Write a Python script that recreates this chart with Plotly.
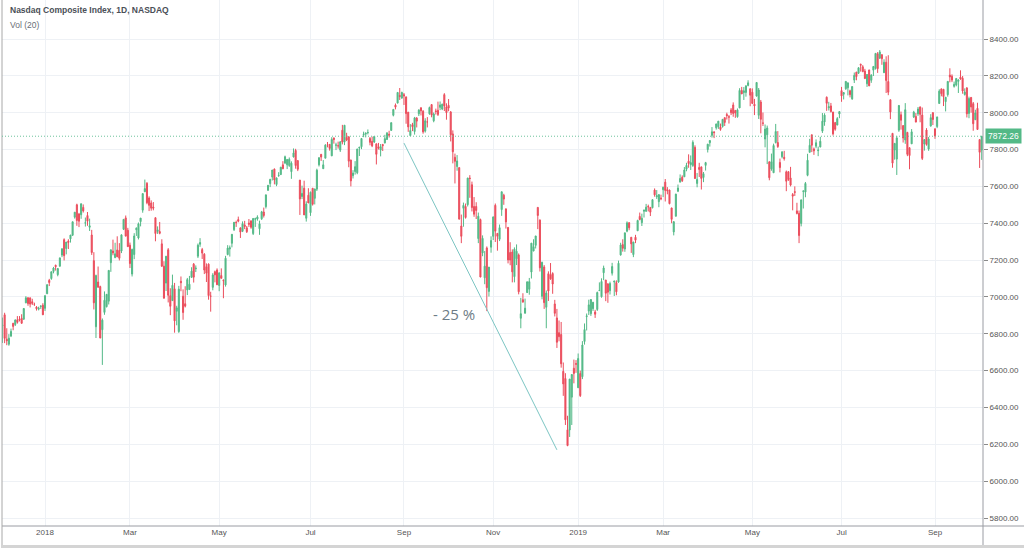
import plotly.graph_objects as go
import pandas as pd

title_text = "Nasdaq Composite Index, 1D, NASDAQ"
study_text = "Vol (20)"
last_price = 7872.26
drawdown_label = "- 25 %"
price_ticks = [5800, 6000, 6200, 6400, 6600, 6800, 7000, 7200, 7400, 7600, 7800, 8000, 8200, 8400]

# Daily OHLC, Dec 2017 .. Oct 3 2019 (one row per month)
open_ = [
    6844,6903,6770,6743,6788,6857,6850,6876,6880,6884,6879,6968,6995,6995,6974,6960,6945,6933,6948,6955,
    6938,7017,7090,7100,7138,7172,7121,7167,7227,7311,7263,7303,7315,7335,7433,7500,7450,7446,7486,7401,7442,
    7378,7336,7197,6838,7081,7056,6822,6916,6947,6977,7186,7249,7214,7255,7252,7249,7367,7429,7362,
    7281,7124,7230,7365,7320,7409,7471,7571,7617,7537,7510,7488,7430,7355,7355,7288,7167,7075,7256,7007,6980,
    7044,6922,6812,7085,7004,6963,7038,7040,7106,7178,7153,7221,7286,7257,7232,7164,7178,7004,7052,7137,7146,
    7062,7116,7090,7065,7230,7260,7291,7365,7404,7420,7375,7356,7391,7375,7401,7413,7344,7422,7423,7370,7424,7461,
    7490,7579,7615,7651,7694,7610,7658,7664,7717,7727,7717,7713,7680,7760,7795,7740,7634,7545,7590,7427,7552,
    7457,7590,7535,7585,7717,7774,7696,7753,7827,7828,7766,7862,7823,7821,7797,7905,7840,7866,7869,7743,7658,
    7681,7674,7808,7815,7881,7884,7892,7860,7845,7841,7831,7815,7797,7827,7836,7855,7883,7904,7986,8041,8052,8094,8080,
    8098,8086,8003,7876,7935,7898,7971,7994,8027,8008,7900,7950,7994,8044,7956,8009,8013,8029,8020,
    8098,8032,8040,8004,7885,7758,7708,7702,7385,7481,7491,7501,7645,7609,7491,7491,7317,7420,7239,7104,7266,7030,7270,
    7329,7497,7345,7313,7474,7552,7478,7377,7241,7244,7110,7207,7228,6884,6985,6912,7024,7042,7135,7249,7280,
    7486,7417,7003,7163,6944,7126,7121,7127,6962,6886,6806,6796,6596,6557,6279,6278,6456,6613,6638,
    6507,6584,6567,6758,6893,6923,6909,6936,6918,6932,7034,7001,7131,7092,7071,7034,7129,7081,7078,7081,7228,
    7284,7260,7357,7403,7324,7230,7324,7359,7437,7403,7465,7465,7491,7486,7484,7580,7544,7517,7537,
    7582,7623,7582,7580,7483,7353,7438,7574,7623,7650,7652,7693,7737,7718,7713,7812,7616,7703,7706,7648,7714,
    7800,7837,7877,7895,7918,7924,7922,7925,7973,7990,7978,8015,8042,8012,7978,8026,8121,8109,8110,8148,8130,
    8111,8046,8090,7986,8058,7944,7857,7880,7733,7695,7674,7838,7838,7730,7761,7758,7679,7680,7646,7556,7571,7467,
    7454,7399,7573,7569,7660,7785,7880,7803,7818,7794,7814,7900,7950,8084,8027,8037,8004,7946,7933,7993,
    8120,8100,8130,8135,8119,8075,8177,8220,8214,8263,8249,8226,8157,8232,8176,8231,8240,8320,8296,8315,8217,8274,
    8169,8070,7888,7797,7748,7905,7989,7930,7852,7893,7810,7831,7977,7980,7994,8031,7987,7830,7906,7803,7928,8000,
    7913,7925,8050,8129,8127,8060,8098,8204,8198,8143,8151,8170,8193,8187,8099,8134,7996,8083,8049,7962,
    8024,7854,7797,
]
high = [
    6888,6914,6830,6798,6828,6859,6878,6896,6896,6906,6940,7004,6999,6996,6990,6969,6950,6947,6955,6966,
    7007,7069,7098,7137,7163,7175,7157,7212,7264,7318,7298,7313,7336,7408,7461,7506,7456,7506,7502,7431,7461,
    7425,7364,7243,7121,7165,7061,6883,7030,7016,7146,7256,7311,7294,7329,7292,7338,7422,7442,7375,
    7295,7262,7346,7378,7404,7428,7561,7637,7623,7546,7524,7515,7431,7383,7407,7313,7194,7222,7265,7047,7121,
    7076,6952,7060,7111,7041,7058,7103,7114,7161,7184,7171,7290,7319,7266,7238,7182,7182,7028,7129,7143,7155,
    7131,7155,7096,7223,7281,7279,7340,7406,7414,7436,7376,7410,7413,7385,7423,7414,7427,7430,7443,7414,7467,7485,
    7555,7607,7641,7689,7697,7648,7677,7706,7737,7767,7749,7757,7736,7806,7804,7741,7635,7604,7631,7519,7590,
    7572,7590,7587,7696,7757,7776,7743,7829,7841,7830,7867,7866,7837,7843,7845,7934,7933,7891,7872,7745,7688,
    7737,7804,7815,7860,7897,7894,7909,7868,7870,7873,7832,7836,7830,7831,7880,7895,7902,7946,8018,8050,8110,8134,8114,
    8107,8086,8003,7938,7945,7977,7976,8019,8028,8014,7970,7976,8033,8045,8001,8022,8060,8061,8049,
    8106,8051,8074,8009,7904,7778,7770,7702,7447,7512,7507,7647,7661,7626,7542,7514,7458,7425,7334,7249,7274,7162,7329,
    7437,7507,7346,7393,7571,7560,7479,7380,7297,7258,7269,7285,7236,6995,7020,6991,7083,7103,7292,7313,7331,
    7487,7421,7191,7173,7035,7139,7184,7134,6984,6935,6872,6864,6644,6586,6355,6555,6580,6660,6657,
    6693,6600,6760,6856,6910,6985,6987,6973,6930,7029,7079,7101,7170,7092,7073,7083,7185,7087,7090,7197,7294,
    7313,7348,7410,7405,7325,7299,7337,7419,7458,7452,7472,7505,7501,7488,7528,7589,7580,7558,7555,
    7599,7640,7596,7582,7484,7412,7560,7610,7665,7660,7705,7728,7774,7768,7850,7823,7673,7728,7706,7678,7733,
    7831,7850,7922,7900,7940,7955,7941,7965,7974,8000,7987,8025,8056,8015,8023,8133,8140,8139,8147,8176,8131,
    8132,8075,8166,8134,8069,8001,7936,7930,7737,7778,7832,7939,7900,7751,7792,7793,7686,7682,7706,7564,7600,7511,
    7469,7527,7577,7624,7777,7858,7881,7811,7855,7816,7869,7998,7997,8088,8059,8053,8004,7950,7976,8009,
    8140,8111,8171,8163,8125,8142,8218,8222,8246,8266,8258,8238,8210,8233,8209,8252,8323,8329,8340,8316,8290,8306,
    8312,8072,7888,7836,7874,8042,8006,7931,8052,7896,7811,7911,8010,7998,8031,8034,8028,7855,7916,7868,7992,8003,
    7913,7978,8127,8132,8129,8085,8171,8241,8208,8169,8187,8182,8230,8199,8132,8139,8087,8085,8058,8016,
    8054,7855,7874,
]
low = [
    6750,6749,6738,6735,6782,6819,6842,6855,6867,6854,6876,6966,6952,6943,6956,6951,6926,6927,6935,6902,
    6924,7017,7059,7093,7128,7143,7112,7164,7216,7198,7231,7260,7295,7331,7425,7386,7379,7424,7458,7382,7386,
    7358,7228,6932,6777,7052,6776,6631,6903,6943,6959,7136,7226,7210,7216,7198,7238,7363,7330,7273,
    7157,7111,7205,7331,7312,7383,7457,7569,7503,7466,7468,7470,7302,7342,7340,7163,6992,7032,6970,6901,6978,
    6806,6846,6805,7031,6876,6943,7010,7040,7105,7078,7135,7211,7272,7206,7124,7081,6985,6920,7036,7079,7066,
    7031,7100,6993,7056,7226,7219,7269,7358,7380,7405,7320,7352,7368,7347,7380,7370,7336,7380,7414,7337,7418,7431,
    7480,7575,7596,7632,7611,7601,7652,7662,7693,7721,7694,7706,7641,7757,7696,7683,7445,7531,7445,7409,7510,
    7440,7496,7502,7575,7708,7738,7695,7753,7812,7794,7764,7832,7797,7805,7787,7828,7824,7846,7704,7600,7643,
    7664,7666,7765,7802,7867,7866,7882,7823,7813,7836,7719,7800,7763,7792,7833,7852,7865,7902,7980,8018,8051,8069,8075,
    8042,7940,7896,7874,7900,7881,7920,7982,7985,7886,7892,7920,7989,7975,7948,7990,7982,8014,8014,
    8009,7962,8008,7844,7725,7616,7685,7422,7292,7381,7425,7491,7538,7464,7435,7423,7292,7107,7221,7069,6923,7002,7240,
    7309,7298,7251,7303,7440,7500,7371,7182,7172,7079,7079,7173,7014,6830,6969,6909,7021,7012,7100,7249,7263,
    7368,7138,6987,6935,6830,6978,7093,7017,6894,6723,6759,6616,6463,6305,6190,6240,6305,6531,6588,
    6506,6457,6554,6741,6818,6902,6897,6924,6886,6924,7034,6996,7091,6977,6968,7013,7116,7005,7009,7077,7224,
    7246,7245,7351,7362,7239,7216,7292,7359,7416,7385,7431,7462,7464,7439,7481,7544,7532,7487,7525,
    7542,7518,7557,7503,7400,7334,7437,7569,7623,7624,7651,7682,7701,7689,7706,7641,7595,7651,7583,7623,7686,
    7784,7816,7865,7862,7908,7912,7902,7919,7928,7963,7941,7987,7978,7972,7973,8025,8101,8069,8087,8143,8035,
    8049,7987,8088,7966,7888,7928,7812,7721,7633,7685,7674,7833,7809,7676,7752,7740,7574,7630,7600,7470,7548,7448,
    7292,7383,7480,7541,7655,7784,7786,7771,7807,7764,7812,7890,7929,8010,8012,8001,7876,7902,7932,7970,
    8059,8072,8124,8094,8083,8070,8161,8176,8210,8223,8220,8185,8140,8144,8162,8199,8234,8216,8292,8260,8216,8107,
    8095,7965,7701,7745,7662,7896,7908,7838,7831,7764,7693,7831,7971,7948,7983,7948,7743,7794,7821,7793,7924,7933,
    7858,7916,8049,8089,8036,8007,8087,8165,8166,8136,8143,8107,8179,8103,8093,7974,7970,8000,7902,7960,
    7906,7700,7744,
]
close = [
    6848,6775,6762,6776,6813,6840,6875,6862,6876,6857,6937,6995,6964,6961,6965,6960,6936,6939,6950,6903,
    7007,7066,7078,7137,7157,7164,7154,7212,7261,7224,7298,7296,7336,7408,7460,7415,7411,7506,7467,7402,7411,
    7386,7241,6968,7116,7052,6777,6874,6982,7014,7144,7256,7239,7234,7218,7210,7337,7421,7330,7273,
    7181,7258,7331,7372,7397,7428,7561,7588,7511,7497,7482,7482,7344,7364,7345,7167,6993,7221,7009,6949,7063,
    6870,6941,7042,7077,6915,6950,7094,7069,7140,7107,7156,7281,7295,7238,7146,7129,7007,7004,7119,7120,7066,
    7131,7101,7088,7210,7265,7267,7340,7405,7403,7411,7352,7398,7382,7354,7394,7378,7426,7424,7434,7397,7462,7442,
    7554,7606,7638,7689,7635,7646,7660,7704,7696,7761,7746,7747,7726,7782,7713,7693,7532,7562,7445,7504,7510,
    7568,7503,7586,7688,7756,7759,7717,7824,7826,7806,7855,7854,7825,7820,7842,7841,7932,7852,7737,7630,7672,
    7707,7803,7812,7860,7884,7888,7892,7839,7820,7871,7774,7807,7816,7821,7859,7889,7878,7946,8018,8030,8110,8088,8110,
    8091,7995,7923,7903,7924,7972,7954,8014,8010,7896,7956,7950,8028,7987,7993,8007,7990,8042,8046,
    8037,8000,8025,7880,7788,7736,7738,7422,7329,7497,7431,7645,7643,7485,7449,7469,7438,7108,7318,7167,7050,7162,7306,
    7434,7357,7329,7376,7571,7531,7407,7201,7200,7136,7259,7248,7028,6909,6972,6939,7082,7083,7292,7273,7331,
    7442,7158,7188,6969,7021,7032,7098,7070,6911,6754,6784,6637,6528,6333,6193,6554,6579,6585,6635,
    6666,6464,6739,6823,6897,6957,6986,6971,6906,7024,7035,7084,7157,7020,7026,7073,7165,7086,7028,7183,7282,
    7264,7348,7402,7375,7288,7298,7308,7415,7420,7427,7472,7487,7489,7460,7528,7554,7549,7555,7533,
    7595,7578,7576,7506,7421,7408,7558,7591,7643,7631,7689,7714,7724,7729,7839,7643,7638,7692,7643,7669,7729,
    7829,7849,7896,7892,7939,7954,7909,7964,7947,7984,7976,8000,7996,7998,8015,8121,8102,8119,8146,8162,8095,
    8050,8037,8164,8123,7964,7943,7911,7917,7647,7734,7822,7898,7816,7702,7786,7751,7628,7637,7607,7547,7568,7453,
    7333,7527,7575,7616,7742,7823,7823,7793,7837,7797,7845,7954,7987,8051,8032,8006,7885,7910,7968,8006,
    8091,8109,8170,8162,8098,8142,8203,8196,8244,8258,8223,8185,8207,8146,8204,8251,8322,8239,8330,8293,8274,8175,
    8111,8004,7726,7833,7863,8039,7959,7863,8016,7774,7767,7896,8003,7949,8020,7991,7752,7854,7827,7857,7973,7963,
    7874,7977,8117,8103,8087,8084,8170,8194,8177,8154,8186,8177,8183,8118,8112,7994,8077,8031,7940,7999,
    7909,7785,7872,
]

market_holidays = [
    "2017-12-25", "2018-01-01", "2018-01-15", "2018-02-19", "2018-03-30", "2018-05-28",
    "2018-07-04", "2018-09-03", "2018-11-22", "2018-12-05", "2018-12-25", "2019-01-01",
    "2019-01-21", "2019-02-18", "2019-04-19", "2019-05-27", "2019-07-04", "2019-09-02",
]
tick_months = ["2018-01", "2018-03", "2018-05", "2018-07", "2018-09", "2018-11",
               "2019-01", "2019-03", "2019-05", "2019-07", "2019-09"]
tick_labels = ["2018", "Mar", "May", "Jul", "Sep", "Nov", "2019", "Mar", "May", "Jul", "Sep"]

# drawdown trend line (date, price) endpoints
trend_start = ("2018-09-04", 7835)
trend_end = ("2018-12-17", 6170)

dates = [d for d in pd.bdate_range("2017-12-01", "2019-10-03")
         if d.strftime("%Y-%m-%d") not in market_holidays]
n = len(dates)
assert n == len(open_) == len(high) == len(low) == len(close), (n, len(open_), len(high), len(low), len(close))
idx = list(range(n))
date_str = [d.strftime("%Y-%m-%d") for d in dates]
pos = {s: i for i, s in enumerate(date_str)}
first_of_month = {}
for i, d in enumerate(dates):
    first_of_month.setdefault(d.strftime("%Y-%m"), i)
tickvals = [first_of_month[m] for m in tick_months]

UP = "#53b987"
DOWN = "#eb4d5c"
GRID = "#eef1f5"
AXIS = "#9a9ca3"

fig = go.Figure()
fig.add_trace(go.Candlestick(
    x=idx, open=open_, high=high, low=low, close=close, text=date_str,
    increasing=dict(line=dict(color=UP, width=1), fillcolor=UP),
    decreasing=dict(line=dict(color=DOWN, width=1), fillcolor=DOWN),
    whiskerwidth=0, hoverinfo="text+y",
))

# pixel mapping: Jan 2 2018 at px 45, spacing ~2.124 px per bar; plot spans px 2..983
j0 = first_of_month["2018-01"]
spacing = 890 / (first_of_month["2019-09"] - j0)
x_lo = j0 - 43 / spacing
x_hi = j0 + 938 / spacing

fig.update_layout(
    width=1024, height=548,
    margin=dict(l=2, r=41, t=0, b=22),
    paper_bgcolor="white", plot_bgcolor="white",
    showlegend=False,
    font=dict(family="Liberation Sans, Arial, sans-serif", color="#555"),
    xaxis=dict(
        range=[x_lo, x_hi], rangeslider=dict(visible=False),
        tickmode="array", tickvals=tickvals, ticktext=tick_labels,
        showgrid=True, gridcolor=GRID, gridwidth=1, zeroline=False,
        showline=False, ticks="", tickfont=dict(size=8, color="#555"),
    ),
    yaxis=dict(
        side="right", range=[5756.6, 8611.7], tickmode="array", tickvals=price_ticks,
        tickformat=".2f",
        showgrid=True, gridcolor=GRID, gridwidth=1, zeroline=False,
        showline=False, ticks="outside", ticklen=4, tickcolor="#8a8a8a",
        tickfont=dict(size=8, color="#555"),
    ),
)

# frame lines
ph = 526.0
pw = 981.0
fig.add_shape(type="line", xref="paper", yref="paper", x0=0, x1=1 + 41 / pw, y0=0, y1=0,
              line=dict(color=AXIS, width=1))
fig.add_shape(type="line", xref="paper", yref="paper", x0=1, x1=1, y0=-22 / ph, y1=1,
              line=dict(color=AXIS, width=1))
fig.add_shape(type="line", xref="paper", yref="paper", x0=0, x1=0, y0=-22 / ph, y1=1,
              line=dict(color="#a8a8a8", width=1))
fig.add_shape(type="line", xref="paper", yref="paper", x0=0, x1=1 + 41 / pw, y0=-20.5 / ph, y1=-20.5 / ph,
              line=dict(color="#d4d4d4", width=3))

# last price dotted line + label
fig.add_shape(type="line", xref="paper", yref="y", x0=0, x1=1, y0=last_price, y1=last_price,
              line=dict(color="#6cc39b", width=1, dash="1px,2px"))
fig.add_annotation(xref="paper", yref="y", x=1, y=last_price, xanchor="left", yanchor="middle",
                   xshift=2, text=f"{last_price:.2f}", showarrow=False,
                   bgcolor=UP, borderpad=2, font=dict(size=8.5, color="white"))

# drawdown trend line and label
fig.add_shape(type="line", xref="x", yref="y",
              x0=pos[trend_start[0]], y0=trend_start[1], x1=pos[trend_end[0]], y1=trend_end[1],
              line=dict(color="#7cc5c3", width=1))
fig.add_annotation(xref="x", yref="y", x=212.6, y=6907, text=drawdown_label, showarrow=False,
                   xanchor="center", yanchor="middle",
                   font=dict(size=15, color="#6d7c86", family="Open Sans, Liberation Sans, sans-serif"))

# header texts
fig.add_annotation(xref="paper", yref="paper", x=6 / pw, y=1 - 10 / ph, xanchor="left", yanchor="middle",
                   text=title_text, showarrow=False,
                   font=dict(size=8.5, color="#4a4f57", family="Liberation Sans, Arial, sans-serif", weight=600))
fig.add_annotation(xref="paper", yref="paper", x=6 / pw, y=1 - 25 / ph, xanchor="left", yanchor="middle",
                   text=study_text, showarrow=False,
                   font=dict(size=8.5, color="#6a6f77", family="Liberation Sans, Arial, sans-serif"))

fig.write_html("out.html")
